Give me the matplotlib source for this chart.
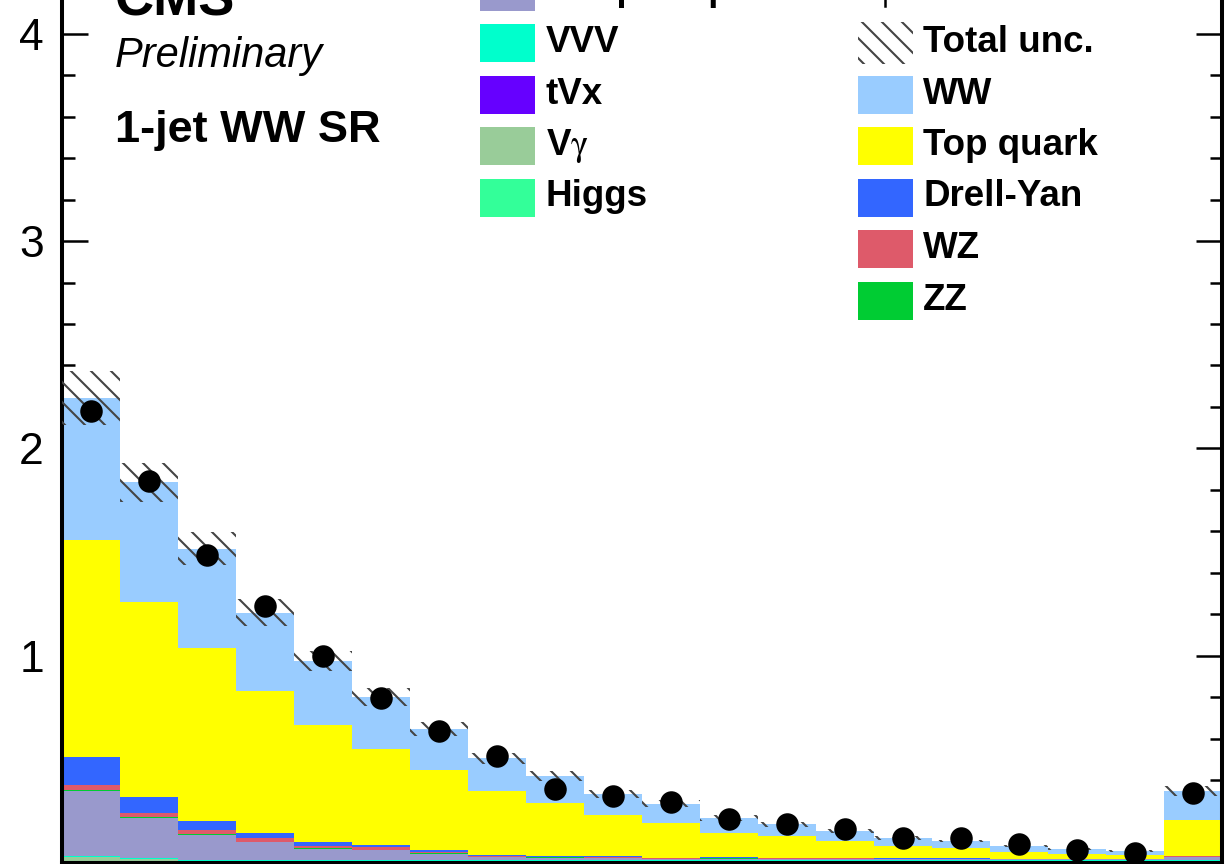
import matplotlib
matplotlib.use('Agg')
import matplotlib.pyplot as plt
import numpy as np
from matplotlib.patches import Rectangle
from matplotlib.lines import Line2D
from matplotlib.transforms import Affine2D
from matplotlib.ticker import MultipleLocator

DPI = 120
S = 100.0 / DPI  # size factor so that sizes below are "points at 100 dpi"

plt.rcParams['font.family'] = ['Liberation Sans', 'DejaVu Sans']
plt.rcParams['mathtext.fontset'] = 'stix'
plt.rcParams['hatch.linewidth'] = 1.5 * S

# ---------------- data ----------------
bin_edges = [85 + 15 * i for i in range(21)]

higgs = [0.010, 0.009] + [0.007] * 18
vgamma = [0.018, 0.010] + [0.002] * 18
tvx = [0.002, 0.002] + [0.001] * 18
vvv = [0.004, 0.005] + [0.004] * 18
nonprompt = [0.315, 0.193, 0.123, 0.086, 0.054, 0.049, 0.031, 0.013, 0.012, 0.010,
             0.006, 0.007, 0.005, 0.005, 0.004, 0.004, 0.003, 0.003, 0.003, 0.016]
zz = [0.003, 0.003, 0.002, 0.002, 0.002, 0.002, 0.002, 0.001, 0.001, 0.001,
      0.001, 0.001, 0.001, 0.001, 0.001, 0.001, 0.001, 0.001, 0.001, 0.001]
wz = [0.026, 0.021, 0.019, 0.018, 0.012, 0.011, 0.008, 0.005, 0.004, 0.004,
      0.003, 0.003, 0.002, 0.002, 0.002, 0.002, 0.002, 0.002, 0.002, 0.003]
dy = [0.132, 0.076, 0.047, 0.024, 0.018, 0.010, 0.007, 0.004, 0.003, 0.003,
      0.002, 0.002, 0.002, 0.002, 0.001, 0.001, 0.001, 0.001, 0.001, 0.002]
top = [1.047, 0.942, 0.833, 0.686, 0.566, 0.464, 0.386, 0.309, 0.256, 0.200,
       0.167, 0.118, 0.106, 0.082, 0.060, 0.050, 0.032, 0.022, 0.018, 0.172]
ww = [0.684, 0.575, 0.478, 0.377, 0.309, 0.251, 0.198, 0.159, 0.130, 0.101,
      0.092, 0.072, 0.058, 0.049, 0.039, 0.034, 0.029, 0.025, 0.019, 0.140]
total_unc = [0.130, 0.095, 0.080, 0.065, 0.050, 0.042, 0.035, 0.028, 0.024, 0.020,
             0.017, 0.014, 0.012, 0.010, 0.008, 0.007, 0.006, 0.005, 0.004, 0.025]
data = [2.179, 1.842, 1.485, 1.242, 0.997, 0.794, 0.639, 0.517, 0.359, 0.324,
        0.296, 0.211, 0.190, 0.163, 0.122, 0.119, 0.092, 0.063, 0.047, 0.340]

stack_order = [  # bottom -> top
    ('Higgs', higgs, '#33ff99'),
    ('V$\\mathrm{\\gamma}$', vgamma, '#99cc99'),
    ('tVx', tvx, '#6600ff'),
    ('VVV', vvv, '#00ffcc'),
    ('Nonprompt', nonprompt, '#9999cc'),
    ('ZZ', zz, '#00cc33'),
    ('WZ', wz, '#de5a6a'),
    ('Drell-Yan', dy, '#3366ff'),
    ('Top quark', top, '#ffff00'),
    ('WW', ww, '#99ccff'),
]

# ---------------- figure ----------------
W, H = 1225, 864
fig = plt.figure(figsize=(W / DPI, H / DPI), dpi=DPI)
px_per_unit = 207.3
ymax = 4.6
ax = fig.add_axes([62 / W, (H - 863) / H, 1160 / W, ymax * px_per_unit / H])

edges = np.array(bin_edges, dtype=float)
cum = np.zeros(len(edges) - 1)
for name, vals, col in stack_order:
    v = np.array(vals)
    ax.stairs(cum + v, edges, baseline=cum.copy(), fill=True,
              facecolor=col, edgecolor='none', linewidth=0, zorder=2)
    cum = cum + v

unc = np.array(total_unc)
ax.stairs(cum + unc, edges, baseline=cum - unc, fill=True, facecolor='none',
          edgecolor='#444444', hatch='\\\\', linewidth=0, zorder=3)

centers = 0.5 * (edges[:-1] + edges[1:])
ax.plot(centers, data, 'o', color='black', ms=15 * S, zorder=5)

ax.set_xlim(edges[0], edges[-1])
ax.set_ylim(0, ymax)

ax.xaxis.set_major_locator(MultipleLocator(100))
ax.xaxis.set_minor_locator(MultipleLocator(20))
ax.set_yticks([1, 2, 3, 4])
ax.set_yticklabels(['1', '2', '3', '4'])
ax.yaxis.set_minor_locator(MultipleLocator(0.2))
ax.tick_params(which='both', direction='in', top=True, right=True, width=1.8 * S)
ax.tick_params(which='major', length=18.5 * S)
ax.tick_params(which='minor', length=9 * S)
ax.tick_params(axis='y', labelsize=32 * S, pad=13 * S)
ax.tick_params(axis='x', labelbottom=False)
for s in ax.spines.values():
    s.set_linewidth(2.9 * S)

# ---------------- texts (pixel coordinates from top-left) ----------------
pix = Affine2D().scale(1 / W, -1 / H).translate(0, 1) + fig.transFigure

fig.text(115, 15, 'CMS', transform=pix, fontsize=39 * S, fontweight='bold', va='baseline')
fig.text(115, 67, 'Preliminary', transform=pix, fontsize=30 * S, fontstyle='italic', va='baseline')
fig.text(115, 142, '1-jet WW SR', transform=pix, fontsize=32.5 * S, fontweight='bold', va='baseline')

colors = {name: col for name, vals, col in stack_order}
row_y = [-8.5, 43, 94.5, 146, 197.5, 249, 300.5]

left_entries = ['Nonprompt', 'VVV', 'tVx', 'V$\\mathrm{\\gamma}$', 'Higgs']
right_entries = ['Data', 'Total unc.', 'WW', 'Top quark', 'Drell-Yan', 'WZ', 'ZZ']

def swatch(x0, cy, name):
    if name == 'Data':
        fig.add_artist(Line2D([885, 885], [-30, 6], transform=pix, color='black', lw=1.8 * S))
        fig.add_artist(Line2D([885], [-12], transform=pix, marker='o', color='black', ms=15 * S))
    elif name == 'Total unc.':
        fig.add_artist(Rectangle((x0, cy - 21), 55, 42, transform=pix, facecolor='none',
                                 edgecolor='#444444', hatch='\\\\', linewidth=0))
    else:
        fig.add_artist(Rectangle((x0, cy - 19), 55, 38, transform=pix,
                                 facecolor=colors[name], edgecolor='none'))

for i, name in enumerate(left_entries):
    cy = row_y[i]
    swatch(480, cy, name)
    fig.text(546, cy + 9, name, transform=pix, fontsize=26.5 * S, fontweight='bold', va='baseline')

for i, name in enumerate(right_entries):
    cy = row_y[i]
    swatch(858, cy, name)
    fig.text(923, cy + 9, name, transform=pix, fontsize=26.5 * S, fontweight='bold', va='baseline')

fig.savefig('out.png', dpi=DPI)
